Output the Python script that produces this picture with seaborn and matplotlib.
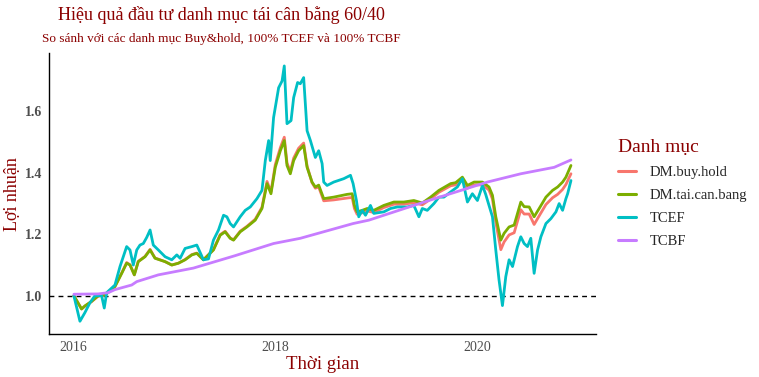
import matplotlib
matplotlib.use("Agg")
from matplotlib import pyplot as plt
import seaborn as sns
import pandas as pd

# values (x as decimal year)
dm_years = [
    2016.007, 2016.083, 2016.116, 2016.183, 2016.248, 2016.315, 2016.414, 2016.481,
    2016.530, 2016.563, 2016.606, 2016.645, 2016.712, 2016.762, 2016.811, 2016.911,
    2016.977, 2017.043, 2017.109, 2017.176, 2017.225, 2017.291, 2017.390, 2017.457,
    2017.506, 2017.556, 2017.589, 2017.655, 2017.722, 2017.804, 2017.871, 2017.921,
    2017.960, 2018.003, 2018.053, 2018.092, 2018.119, 2018.152, 2018.185, 2018.234,
    2018.284, 2018.318, 2018.367, 2018.400, 2018.433, 2018.483, 2018.582, 2018.715,
    2018.765, 2018.787, 2018.814, 2018.864, 2018.914, 2018.979, 2019.078, 2019.178,
    2019.277, 2019.376, 2019.460, 2019.542, 2019.625, 2019.741, 2019.790, 2019.857,
    2019.907, 2019.973, 2020.056, 2020.121, 2020.155, 2020.188, 2020.238, 2020.270,
    2020.320, 2020.370, 2020.436, 2020.469, 2020.519, 2020.568, 2020.618, 2020.685,
    2020.751, 2020.801, 2020.850, 2020.883, 2020.933,
]
dm_tai_can_bang = [
    1.000, 0.957, 0.967, 0.982, 1.000, 1.003, 1.030, 1.073,
    1.106, 1.100, 1.068, 1.111, 1.127, 1.149, 1.122, 1.111,
    1.100, 1.106, 1.117, 1.133, 1.138, 1.117, 1.149, 1.197,
    1.208, 1.187, 1.181, 1.208, 1.224, 1.246, 1.284, 1.365,
    1.332, 1.418, 1.472, 1.505, 1.424, 1.397, 1.440, 1.472,
    1.489, 1.418, 1.370, 1.354, 1.360, 1.316, 1.321, 1.330,
    1.332, 1.294, 1.273, 1.278, 1.284, 1.278, 1.294, 1.305,
    1.305, 1.310, 1.302, 1.321, 1.343, 1.365, 1.368, 1.386,
    1.359, 1.370, 1.370, 1.354, 1.327, 1.257, 1.181, 1.203,
    1.224, 1.230, 1.305, 1.290, 1.289, 1.257, 1.284, 1.321,
    1.343, 1.354, 1.370, 1.386, 1.424,
]
dm_buy_hold = [
    1.000, 0.957, 0.966, 0.981, 0.999, 1.002, 1.030, 1.074,
    1.108, 1.101, 1.068, 1.112, 1.128, 1.151, 1.123, 1.111,
    1.100, 1.106, 1.118, 1.134, 1.139, 1.117, 1.150, 1.199,
    1.210, 1.188, 1.182, 1.210, 1.226, 1.249, 1.288, 1.372,
    1.338, 1.427, 1.482, 1.516, 1.432, 1.404, 1.448, 1.480,
    1.497, 1.422, 1.368, 1.350, 1.354, 1.309, 1.312, 1.318,
    1.320, 1.284, 1.265, 1.270, 1.276, 1.271, 1.287, 1.298,
    1.298, 1.303, 1.296, 1.315, 1.337, 1.358, 1.361, 1.378,
    1.350, 1.361, 1.361, 1.344, 1.315, 1.240, 1.150, 1.175,
    1.198, 1.205, 1.280, 1.266, 1.266, 1.232, 1.260, 1.297,
    1.319, 1.330, 1.346, 1.362, 1.397,
]

tcef_years = [
    2016.007, 2016.067, 2016.116, 2016.166, 2016.215, 2016.282, 2016.308, 2016.332,
    2016.414, 2016.464, 2016.530, 2016.563, 2016.596, 2016.630, 2016.662, 2016.695,
    2016.729, 2016.762, 2016.794, 2016.844, 2016.911, 2016.977, 2017.027, 2017.060,
    2017.109, 2017.176, 2017.225, 2017.291, 2017.341, 2017.390, 2017.440, 2017.490,
    2017.523, 2017.556, 2017.589, 2017.655, 2017.705, 2017.755, 2017.821, 2017.871,
    2017.904, 2017.937, 2017.953, 2017.986, 2018.036, 2018.070, 2018.092, 2018.119,
    2018.159, 2018.185, 2018.224, 2018.251, 2018.284, 2018.318, 2018.351, 2018.400,
    2018.433, 2018.467, 2018.483, 2018.516, 2018.582, 2018.681, 2018.748, 2018.774,
    2018.807, 2018.830, 2018.864, 2018.897, 2018.946, 2018.979, 2019.078, 2019.145,
    2019.212, 2019.311, 2019.376, 2019.426, 2019.460, 2019.509, 2019.575, 2019.625,
    2019.674, 2019.741, 2019.807, 2019.857, 2019.907, 2019.956, 2020.006, 2020.056,
    2020.088, 2020.121, 2020.155, 2020.188, 2020.220, 2020.254, 2020.287, 2020.320,
    2020.354, 2020.403, 2020.436, 2020.469, 2020.502, 2020.535, 2020.568, 2020.602,
    2020.635, 2020.685, 2020.734, 2020.784, 2020.816, 2020.850, 2020.883, 2020.900,
    2020.933,
]
tcef = [
    1.000, 0.917, 0.945, 0.977, 1.000, 1.000, 0.960, 1.010,
    1.035, 1.095, 1.160, 1.149, 1.100, 1.149, 1.165, 1.170,
    1.190, 1.214, 1.165, 1.149, 1.127, 1.117, 1.133, 1.122,
    1.154, 1.160, 1.165, 1.117, 1.120, 1.181, 1.214, 1.262,
    1.257, 1.235, 1.224, 1.257, 1.278, 1.289, 1.316, 1.343,
    1.440, 1.505, 1.440, 1.580, 1.677, 1.699, 1.748, 1.560,
    1.570, 1.645, 1.694, 1.690, 1.710, 1.537, 1.505, 1.450,
    1.472, 1.430, 1.370, 1.359, 1.370, 1.381, 1.392, 1.365,
    1.310, 1.257, 1.278, 1.262, 1.294, 1.268, 1.273, 1.284,
    1.289, 1.289, 1.294, 1.257, 1.284, 1.278, 1.300, 1.321,
    1.321, 1.338, 1.354, 1.381, 1.305, 1.332, 1.310, 1.359,
    1.330, 1.294, 1.257, 1.149, 1.052, 0.968, 1.062, 1.117,
    1.095, 1.160, 1.192, 1.170, 1.160, 1.187, 1.073, 1.149,
    1.192, 1.235, 1.251, 1.273, 1.300, 1.278, 1.316, 1.332,
    1.375,
]

tcbf_years = [
    2016.007, 2016.248, 2016.347, 2016.414, 2016.580, 2016.630, 2016.844, 2017.191,
    2017.600, 2017.986, 2018.251, 2018.774, 2018.930, 2019.525, 2020.104, 2020.436,
    2020.767, 2020.933,
]
tcbf = [
    1.005, 1.006, 1.010, 1.020, 1.035, 1.046, 1.068, 1.090,
    1.130, 1.170, 1.187, 1.235, 1.246, 1.310, 1.370, 1.397,
    1.418, 1.442,
]

series_names = ["DM.buy.hold", "DM.tai.can.bang", "TCEF", "TCBF"]
palette = ["#F8766D", "#7CAE00", "#00BFC4", "#C77CFF"]

df = pd.concat([
    pd.DataFrame({"year": dm_years, "value": dm_buy_hold, "Danh mục": "DM.buy.hold"}),
    pd.DataFrame({"year": dm_years, "value": dm_tai_can_bang, "Danh mục": "DM.tai.can.bang"}),
    pd.DataFrame({"year": tcef_years, "value": tcef, "Danh mục": "TCEF"}),
    pd.DataFrame({"year": tcbf_years, "value": tcbf, "Danh mục": "TCBF"}),
], ignore_index=True)

sns.set_style("white")
plt.rcParams["font.family"] = ["Liberation Serif", "DejaVu Serif"]
title_red = "#8B0000"

fig = plt.figure(figsize=(7.59, 3.77), dpi=100)
ax = fig.add_axes([0.0646, 0.114, 0.7204, 0.745])

sns.lineplot(
    data=df, x="year", y="value", hue="Danh mục",
    hue_order=series_names, palette=palette,
    linewidth=2.0, ax=ax, legend=True,
)
ax.axhline(1.0, color="black", linestyle=(0, (3.5, 3)), linewidth=1.0, zorder=1)

# ggplot-like 5% expansion
xmin, xmax = df["year"].min(), df["year"].max()
ymin, ymax = df["value"].min(), df["value"].max()
ax.set_xlim(xmin - 0.05 * (xmax - xmin), xmax + 0.05 * (xmax - xmin))
ax.set_ylim(ymin - 0.05 * (ymax - ymin), ymax + 0.05 * (ymax - ymin))

ax.set_xticks([2016, 2018, 2020])
ax.set_xticklabels(["2016", "2018", "2020"])
ax.set_yticks([1.0, 1.2, 1.4, 1.6])
ax.set_yticklabels(["1.0", "1.2", "1.4", "1.6"], fontweight="bold")
ax.tick_params(axis="both", direction="out", length=3, width=0.8, color="#333333",
               labelsize=10, labelcolor="#4D4D4D", pad=2)

for side in ["top", "right"]:
    ax.spines[side].set_visible(False)
for side in ["left", "bottom"]:
    ax.spines[side].set_color("black")
    ax.spines[side].set_linewidth(1.0)

ax.set_xlabel("Thời gian", fontsize=13.5, color=title_red)
ax.set_ylabel("Lợi nhuận", fontsize=13, color=title_red)
ax.xaxis.set_label_coords(0.5, -0.078)
ax.yaxis.set_label_coords(-0.051, 0.5)

handles, labels = ax.get_legend_handles_labels()
ax.legend(
    handles, labels, title="Danh mục", loc="upper left",
    bbox_to_anchor=(0.797, 0.665), bbox_transform=fig.transFigure,
    frameon=False, fontsize=10.5, title_fontsize=14,
    handlelength=1.25, handletextpad=0.9, labelspacing=0.67,
)
leg = ax.get_legend()
leg.get_title().set_color(title_red)
leg._legend_box.align = "left"
for line in leg.get_lines():
    line.set_linewidth(2.2)

fig.text(0.292, 0.947, "Hiệu quả đầu tư danh mục tái cân bằng 60/40",
         ha="center", va="baseline", fontsize=13, color=title_red)
fig.text(0.292, 0.889, "So sánh với các danh mục Buy&hold, 100% TCEF và 100% TCBF",
         ha="center", va="baseline", fontsize=9.5, color=title_red)

fig.savefig("out.png", dpi=100)
